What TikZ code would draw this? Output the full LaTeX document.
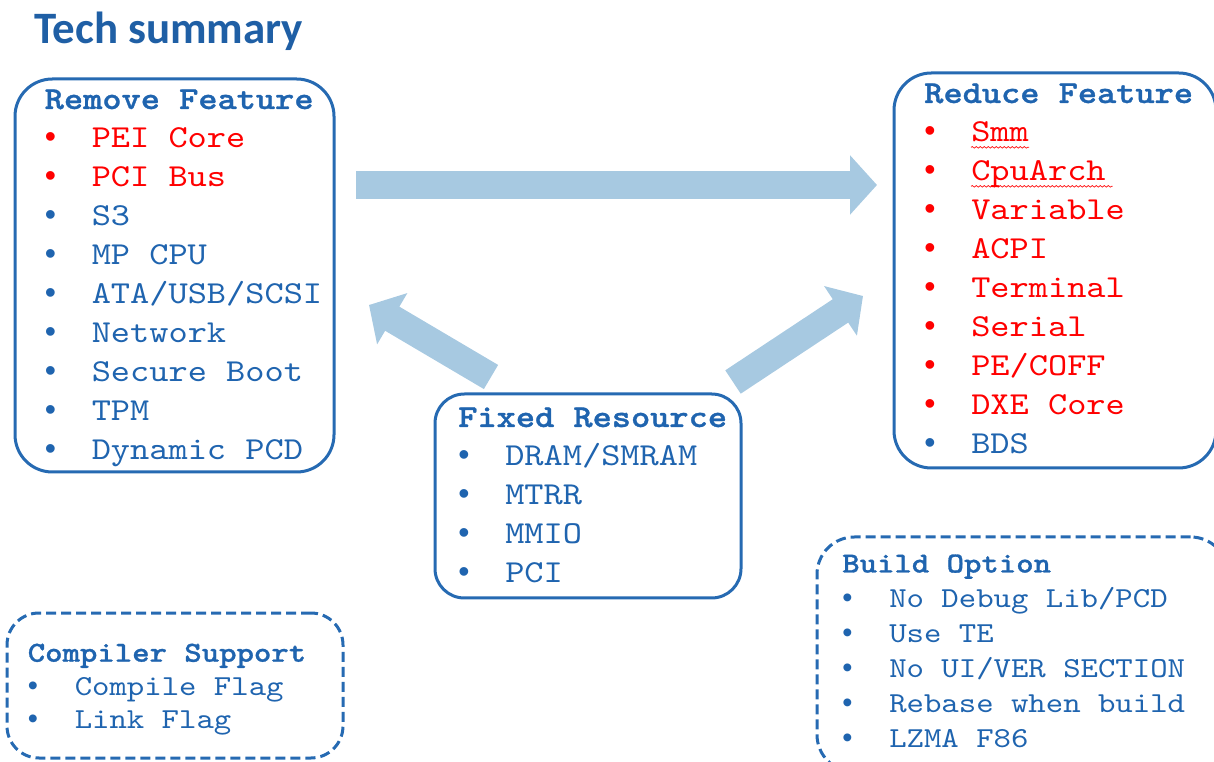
\documentclass[tikz,border=0pt]{standalone}
\usepackage{fontspec}
\setmainfont{Liberation Serif}
\setmonofont{lmmono10-regular.otf}[BoldFont=lmmonolt10-bold.otf, BoldFeatures={FakeBold=1}, FakeStretch=1.143]
\newfontfamily\titlefont{Carlito}
\newfontfamily\bulfont{Liberation Sans}
\usetikzlibrary{arrows.meta,decorations.pathmorphing}

\definecolor{boxblue}{RGB}{38,106,178}
\definecolor{txtblue}{RGB}{31,100,175}
\definecolor{titleblue}{RGB}{31,95,165}
\definecolor{arrowblue}{RGB}{167,201,225}

\newcommand{\bigsz}{\fontsize{24}{29.25}\selectfont}
\newcommand{\smallsz}{\fontsize{21.75}{26}\selectfont}
\newcommand{\bul}{\makebox[35.25pt][l]{\bulfont\textbullet}}

\begin{document}
\begin{tikzpicture}[x=0.75pt, y=-0.75pt,
    featbox/.style={draw=boxblue, line width=2.25pt, rounded corners=28pt, inner sep=0pt},
    optbox/.style={featbox, dash pattern=on 7.5pt off 3.75pt, rounded corners=24pt},
    head/.style={anchor=base west, inner sep=0pt, text=txtblue, font=\ttfamily\bfseries\bigsz},
    item/.style={anchor=base west, inner sep=0pt, font=\ttfamily\bigsz},
    shead/.style={head, font=\ttfamily\bfseries\smallsz},
    sitem/.style={item, text=txtblue, font=\ttfamily\smallsz},
    fatarrow/.style={draw=arrowblue, line width=21pt, -{Triangle[length=20.25pt, width=43.5pt]}},
    squig/.style={red, line width=0.5pt, decorate, decoration={snake, amplitude=0.6pt, segment length=3pt}}]
    \useasboundingbox (0,0) rectangle (1214,762);

    \node[anchor=base west, inner sep=0pt, text=titleblue, font=\titlefont\bfseries\fontsize{33.7}{40}\selectfont] (title) at (34,43.3) {Tech summary};

    % boxes
    \node[featbox, minimum width=239.25pt, minimum height=294.75pt] (remove) at (174.5,275.5) {};
    \node[featbox, minimum width=241.5pt, minimum height=296.25pt] (reduce) at (1055,270.5) {};
    \node[featbox, rounded corners=22pt, minimum width=229.5pt, minimum height=153pt] (fixed) at (588,496) {};
    \node[optbox, minimum width=252pt, minimum height=108.75pt] (compiler) at (175,685.5) {};
    \node[optbox, rounded corners=28pt, minimum width=308.25pt, minimum height=176.25pt] (build) at (1022.5,654.5) {};

    % lists
    \node[head] (rmhead) at (44.5,109) {Remove Feature};
    \foreach \c/\t [count=\i] in {red/PEI Core, red/PCI Bus, txtblue/S3, txtblue/MP CPU, txtblue/{ATA/USB/SCSI},
        txtblue/Network, txtblue/Secure Boot, txtblue/TPM, txtblue/Dynamic PCD}
        \node[item, text=\c] (rm\i) at (44.5,109+39*\i) {\bul\t};

    \node[head] (rdhead) at (924,103) {Reduce Feature};
    \foreach \c/\t [count=\i] in {red/Smm, red/CpuArch, red/Variable, red/ACPI, red/Terminal, red/Serial,
        red/{PE/COFF}, red/DXE Core, txtblue/BDS}
        \node[item, text=\c] (rd\i) at (924,103+39*\i) {\bul\t};
    \draw[squig] ([xshift=35.25pt,yshift=-4pt]rd1.base west) -- ([yshift=-4pt]rd1.base east);
    \draw[squig] ([xshift=35.25pt,yshift=-4pt]rd2.base west) -- ([xshift=5pt,yshift=-4pt]rd2.base east);

    \node[head] (fxhead) at (458,427) {Fixed Resource};
    \foreach \t [count=\i] in {{DRAM/SMRAM}, MTRR, MMIO, PCI}
        \node[item, text=txtblue] (fx\i) at (458,427+39*\i) {\bul\t};

    \node[shead] (bohead) at (842,572.5) {Build Option};
    \foreach \t [count=\i] in {{No Debug Lib/PCD}, Use TE, {No UI/VER SECTION}, Rebase when build, LZMA F86}
        \node[sitem] (bo\i) at (842,572.5+35*\i) {\bul\t};

    \node[shead] (cshead) at (27.5,661.7) {Compiler Support};
    \foreach \t [count=\i] in {Compile Flag, Link Flag}
        \node[sitem] (cs\i) at (27.5,661.7+33.3*\i) {\bul\t};

    % arrows
    \coordinate (toptail) at (356,185);
    \coordinate (toptip) at (877,185);
    \coordinate (ltail) at (491,377);
    \coordinate (ltip) at (369,305);
    \coordinate (rtail) at (733,382);
    \coordinate (rtip) at (863,296);
    \draw[fatarrow] (toptail) -- (toptip);
    \draw[fatarrow] (ltail) -- (ltip);
    \draw[fatarrow] (rtail) -- (rtip);
\end{tikzpicture}
\end{document}
